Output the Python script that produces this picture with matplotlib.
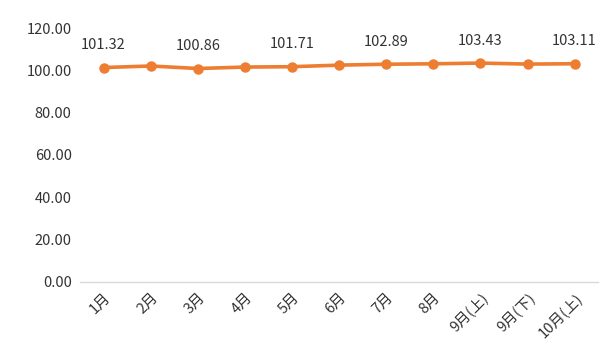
import matplotlib
matplotlib.use("Agg")
import matplotlib.pyplot as plt

plt.rcParams["font.family"] = ["Noto Sans CJK SC", "DejaVu Sans"]

months = ["1月", "2月", "3月", "4月", "5月", "6月", "7月", "8月", "9月(上)", "9月(下)", "10月(上)"]
values = [101.32, 102.05, 100.86, 101.55, 101.71, 102.46, 102.89, 103.08, 103.43, 102.95, 103.11]
labelled = [0, 2, 4, 6, 8, 10]

ORANGE = "#ED7D31"
TEXT = "#333333"

fig = plt.figure(figsize=(6.11, 3.59), dpi=100)
ax = fig.add_axes([0.131, 0.2145, 0.848, 0.7075])

x = list(range(len(months)))
ax.plot(x, values, color=ORANGE, lw=2.6, marker="o", ms=6.5, zorder=3)
for i in labelled:
    ax.annotate(f"{values[i]:.2f}", (x[i], values[i]), xytext=(0, 11), textcoords="offset points",
                ha="center", va="bottom", fontsize=10.5, color=TEXT)

ax.set_xlim(-0.5, len(months) - 0.5)
ax.set_ylim(0, 120)
ax.set_yticks(range(0, 121, 20))
ax.set_yticklabels([f"{v:.2f}" for v in range(0, 121, 20)], fontsize=10.5, color=TEXT)
ax.set_xticks(x)
ax.set_xticklabels(months, rotation=45, ha="right", rotation_mode="anchor", fontsize=10.5, color=TEXT)
ax.tick_params(axis="both", length=0, pad=6)
for s in ["top", "right", "left"]:
    ax.spines[s].set_visible(False)
ax.spines["bottom"].set_color("#D9D9D9")
ax.spines["bottom"].set_linewidth(1)

fig.savefig("out.png", dpi=100)
